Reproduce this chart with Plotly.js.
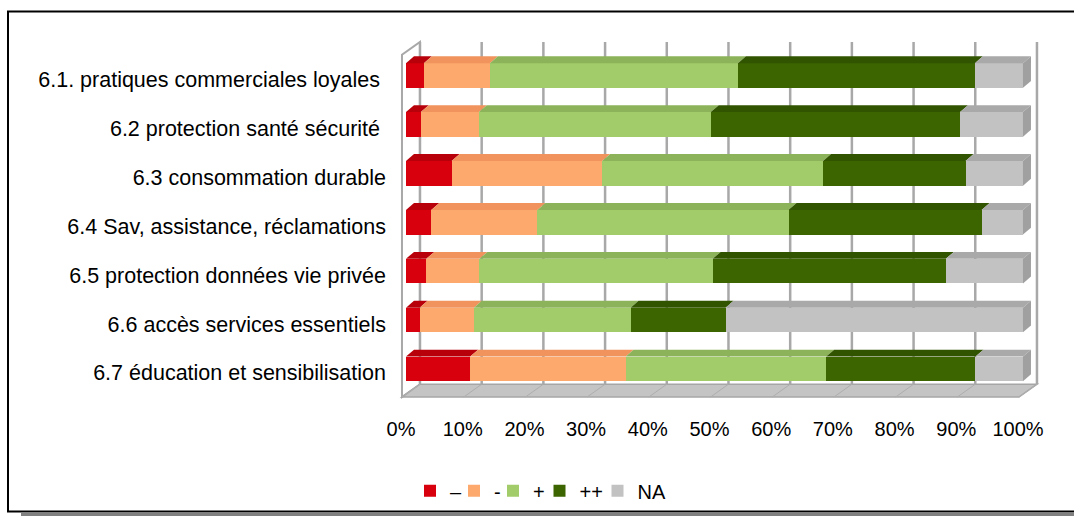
<!DOCTYPE html>
<html>
<head>
<meta charset="utf-8">
<script src="https://cdn.plot.ly/plotly-3.0.1.min.js"></script>
<style>
html,body{margin:0;padding:0;background:#fff;}
#chart{width:1074px;height:522px;}
</style>
</head>
<body>
<div id="chart"></div>
<script>
// ---- data ----
const categories = [
  "6.1. pratiques commerciales loyales\u00a0",
  "6.2 protection santé sécurité\u00a0",
  "6.3 consommation durable",
  "6.4 Sav, assistance, réclamations",
  "6.5 protection données vie privée",
  "6.6 accès services essentiels",
  "6.7 éducation et sensibilisation"
];
const seriesNames = ["–", "-", "+", "++", "NA"];
const veryNegative = [2.9, 2.4, 7.4, 4.1, 3.3, 2.2, 10.4];
const negative     = [10.7, 9.4, 24.4, 17.2, 8.6, 8.8, 25.2];
const positive     = [40.2, 37.6, 35.8, 40.7, 37.8, 25.4, 32.5];
const veryPositive = [38.4, 40.4, 23.1, 31.3, 37.8, 15.4, 24.2];
const notAnswered  = [7.8, 10.2, 9.3, 6.7, 12.5, 48.2, 7.7];
const tickValues = [0, 10, 20, 30, 40, 50, 60, 70, 80, 90, 100];

// ---- styles ----
const frontColors = ["#D9000D", "#FDA96E", "#A2CC6A", "#3C6500", "#C2C2C2"];
const topColors   = ["#B8000A", "#F0935C", "#8DB35A", "#315400", "#A9A9A9"];
const sideColor = "#A0A0A0";
const gridColor = "#A8A8A8";
const FONT = "Liberation Sans, Arial, sans-serif";
const FS = 20;
const FS_CAT = 21.5;

// plot area geometry (pixels)
const W = 1074, H = 522;
const L = 395, R = 29, T = 40, B = 117;
const plotW = W - L - R, plotH = H - T - B;
const xRange = [-1.78, 103.57];
const yRange = [6.635, -0.726];
const kx = plotW / (xRange[1] - xRange[0]);  // px per %
const ky = plotH / (yRange[0] - yRange[1]);  // px per category
const xp = px => (px - L) / plotW;
const yp = py => (T + plotH - py) / plotH;
const labelDrop = 4 / ky;                    // category labels sit slightly below bar centres

const series = [veryNegative, negative, positive, veryPositive, notAnswered];
const yIdx = categories.map((c, i) => i);
const barW = 25 / ky;

const traces = series.map((vals, s) => ({
  type: "bar",
  orientation: "h",
  name: seriesNames[s],
  x: vals,
  y: yIdx,
  width: barW,
  marker: {color: frontColors[s], line: {width: 0}},
  legend: s === 0 ? "legend" : "legend" + (s + 1),
  hoverinfo: "skip"
}));
// invisible trace for the label axes
traces.push({type: "scatter", x: [], y: [], xaxis: "x2", yaxis: "y2", showlegend: false, hoverinfo: "skip"});

const shapes = [];
// 3D offsets
const bdx = 8 / kx, bdy = 7 / ky;           // bar depth
const frontShift = -4 / kx;                  // floor front relative to bar front
const backShift = 14 / kx;                   // back wall relative to bar front
const yFloorFront = 6 + (402 - (T + (6 - yRange[1]) * ky)) / ky;
const yFloorBack = yFloorFront - 13 / ky;
const yWallTopBack = yRange[1] + 2 / ky;
const yWallTopFront = yWallTopBack + 13 / ky;

// left wall
shapes.push({type: "path", layer: "below", xref: "x", yref: "y",
  path: `M${frontShift},${yFloorFront} L${frontShift},${yWallTopFront} L${backShift},${yWallTopBack} L${backShift},${yFloorBack} Z`,
  fillcolor: "#FFFFFF", line: {color: gridColor, width: 2}});
// floor
shapes.push({type: "path", layer: "below", xref: "x", yref: "y",
  path: `M${frontShift},${yFloorFront} L${100 + frontShift},${yFloorFront} L${100 + backShift},${yFloorBack} L${backShift},${yFloorBack} Z`,
  fillcolor: "#C4C4C4", line: {color: "#A6A6A6", width: 1.5}});
// back wall gridlines + floor diagonals
tickValues.forEach(v => {
  shapes.push({type: "line", layer: "below", xref: "x", yref: "y",
    x0: v + backShift, x1: v + backShift, y0: yFloorBack, y1: yWallTopBack,
    line: {color: gridColor, width: 2.5}});
  shapes.push({type: "line", layer: "below", xref: "x", yref: "y",
    x0: v + frontShift, x1: v + backShift, y0: yFloorFront, y1: yFloorBack,
    line: {color: "#AEAEAE", width: 1}});
});
// bar top faces and right side face
yIdx.forEach(i => {
  let acc = 0;
  series.forEach((vals, s) => {
    const x0 = acc, x1 = acc + vals[i];
    acc = x1;
    const yt = i - barW / 2;
    shapes.push({type: "path", layer: "above", xref: "x", yref: "y",
      path: `M${x0},${yt} L${x1},${yt} L${x1 + bdx},${yt - bdy} L${x0 + bdx},${yt - bdy} Z`,
      fillcolor: topColors[s], line: {width: 0}});
    if (s === series.length - 1) {
      const yb = i + barW / 2;
      shapes.push({type: "path", layer: "above", xref: "x", yref: "y",
        path: `M${x1},${yt} L${x1 + bdx},${yt - bdy} L${x1 + bdx},${yb - bdy} L${x1},${yb} Z`,
        fillcolor: sideColor, line: {width: 0}});
    }
  });
});
// outer frame
shapes.push({type: "line", xref: "paper", yref: "paper", x0: xp(8), x1: xp(8), y0: yp(11), y1: yp(518), line: {color: "#000", width: 2}});
shapes.push({type: "line", xref: "paper", yref: "paper", x0: xp(7), x1: xp(1080), y0: yp(11), y1: yp(11), line: {color: "#000", width: 2}});
shapes.push({type: "line", xref: "paper", yref: "paper", x0: xp(7), x1: xp(1080), y0: yp(518), y1: yp(518), line: {color: "#000", width: 2}});
shapes.push({type: "line", xref: "paper", yref: "paper", x0: xp(21), x1: xp(1080), y0: yp(521), y1: yp(521), line: {color: "#808080", width: 3}});

// legends, one per series, positioned in a row
const legendSymbolCenters = [430, 474, 513, 559.5, 617.5];
const legendBase = {orientation: "h", xanchor: "left", yanchor: "middle", y: yp(497),
  bgcolor: "rgba(0,0,0,0)", borderwidth: 0, font: {family: FONT, size: FS, color: "#000"}, itemwidth: 30};
const layout = {
  width: W, height: H,
  margin: {l: L, r: R, t: T, b: B, pad: 0},
  paper_bgcolor: "#FFFFFF", plot_bgcolor: "rgba(0,0,0,0)",
  barmode: "stack",
  showlegend: true,
  font: {family: FONT, size: FS, color: "#000"},
  xaxis: {range: xRange, showgrid: false, zeroline: false, showline: false, showticklabels: false, ticks: "", fixedrange: true},
  xaxis2: {overlaying: "x", anchor: "y", side: "bottom", range: [-(401 - L) / kx, -(401 - L) / kx + plotW / kx],
    tickvals: tickValues, ticktext: tickValues.map(v => v + "%"), showgrid: false, zeroline: false, showline: false,
    ticks: "", ticklabelstandoff: 15, tickfont: {family: FONT, size: FS, color: "#000"}, fixedrange: true},
  yaxis: {range: yRange, showgrid: false, zeroline: false, showline: false, showticklabels: false,
    ticks: "", fixedrange: true},
  yaxis2: {overlaying: "y", anchor: "x", side: "left", range: [yRange[0] - labelDrop, yRange[1] - labelDrop],
    tickvals: yIdx, ticktext: categories, showgrid: false, zeroline: false, showline: false,
    ticks: "", ticklabelstandoff: 8, tickfont: {family: FONT, size: FS_CAT, color: "#000"}, fixedrange: true},
  shapes: shapes
};
legendSymbolCenters.forEach((c, s) => {
  const key = s === 0 ? "legend" : "legend" + (s + 1);
  layout[key] = Object.assign({}, legendBase, {x: xp(c - 20)});
});

Plotly.newPlot("chart", traces, layout, {displayModeBar: false, staticPlot: true});
</script>
</body>
</html>
